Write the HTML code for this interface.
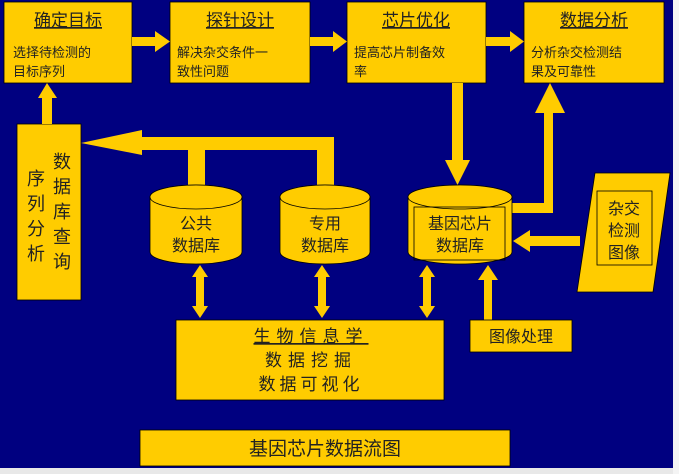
<!DOCTYPE html>
<html><head><meta charset="utf-8"><style>
html,body{margin:0;padding:0;background:#fff}
svg{display:block}
text{font-family:"Liberation Sans","Noto Sans CJK SC",sans-serif;fill:#222}
</style></head><body>
<svg width="679" height="474" viewBox="0 0 679 474" xmlns="http://www.w3.org/2000/svg">
<rect x="0" y="0" width="673" height="468" fill="#000080"/>
<rect x="0" y="468" width="679" height="6" fill="#e8e8e8"/>
<rect x="673" y="0" width="6" height="474" fill="#f4f4f4"/>
<g fill="#FFCC00" stroke="#000" stroke-width="0.8">
<!-- top boxes -->
<rect x="4" y="2" width="128" height="81"/>
<rect x="170" y="2" width="140" height="81"/>
<rect x="347" y="2" width="139" height="81"/>
<rect x="524" y="2" width="140" height="81"/>
<!-- arrows between top boxes -->
<polygon points="132,37 155,37 155,31 170,41.5 155,52 155,46 132,46" stroke="none"/>
<polygon points="310,37 333,37 333,31 347,41.5 333,52 333,46 310,46" stroke="none"/>
<polygon points="486,37 510,37 510,31 524,41.5 510,52 510,46 486,46" stroke="none"/>
<!-- left vertical box -->
<rect x="17" y="124" width="64" height="176"/>
<polygon points="42,124 42,98 38,98 47,83 57,98 52,98 52,124" stroke="none"/>
<!-- big left arrow -->
<polygon points="81,143 142,130 142,137 334,137 334,185 317,185 317,150 205,150 205,185 188,185 188,150 142,150 142,155" stroke="none"/>
<!-- down arrow from box3 -->
<polygon points="452,83 463,83 463,160 470,160 457.5,185 445,160 452,160" stroke="none"/>
<!-- up arrow to box4 -->
<polygon points="512,203 544,203 544,113 535,113 550,83 565,113 553,113 553,213 512,213" stroke="none"/>
<!-- cylinders -->
<path d="M150,197 A46,12 0 0 1 242,197 L242,252 A46,12 0 0 1 150,252 Z"/>
<ellipse cx="196" cy="197" rx="46" ry="12"/>
<path d="M280,197 A45,12 0 0 1 370,197 L370,252 A45,12 0 0 1 280,252 Z"/>
<ellipse cx="325" cy="197" rx="45" ry="12"/>
<path d="M408,197 A52,12 0 0 1 512,197 L512,252 A52,12 0 0 1 408,252 Z"/>
<ellipse cx="460" cy="197" rx="52" ry="12"/>
<rect x="414" y="207" width="91" height="53" fill="none"/>
<!-- parallelogram -->
<polygon points="595,173 670,173 653,292 577,292"/>
<rect x="597" y="191" width="55" height="74" fill="none"/>
<!-- arrow from parallelogram -->
<polygon points="580,236 530,236 530,230 513,241 530,252 530,246 580,246" stroke="none"/>
<!-- double arrows -->
<polygon points="196,277 192,277 200,265 208,277 204,277 204,306 208,306 200,318 192,306 196,306" stroke="none"/>
<polygon points="318,277 314,277 322,265 330,277 326,277 326,306 330,306 322,318 314,306 318,306" stroke="none"/>
<polygon points="423,277 419,277 427,265 435,277 431,277 431,306 435,306 427,318 419,306 423,306" stroke="none"/>
<polygon points="484,320 484,280 478,280 488,265 498,280 492,280 492,320" stroke="none"/>
<!-- bottom boxes -->
<rect x="176" y="320" width="268" height="80"/>
<rect x="470" y="320" width="102" height="32"/>
<rect x="140" y="430" width="370" height="36"/>
</g>
<g font-size="16">
<text x="68" y="26" text-anchor="middle" text-decoration="underline" font-size="17">确定目标</text>
<text x="240" y="26" text-anchor="middle" text-decoration="underline" font-size="17">探针设计</text>
<text x="416" y="26" text-anchor="middle" text-decoration="underline" font-size="17">芯片优化</text>
<text x="594" y="26" text-anchor="middle" text-decoration="underline" font-size="17">数据分析</text>
</g>
<g font-size="13">
<text x="13" y="57">选择待检测的</text><text x="13" y="76">目标序列</text>
<text x="177" y="57">解决杂交条件一</text><text x="177" y="76">致性问题</text>
<text x="354" y="57">提高芯片制备效</text><text x="354" y="76">率</text>
<text x="531" y="57">分析杂交检测结</text><text x="531" y="76">果及可靠性</text>
</g>
<g font-size="18" text-anchor="middle">
<text x="62" y="168">数</text><text x="62" y="193">据</text><text x="62" y="218">库</text><text x="62" y="243">查</text><text x="62" y="268">询</text>
<text x="36" y="185">序</text><text x="36" y="210">列</text><text x="36" y="235">分</text><text x="36" y="260">析</text>
</g>
<g font-size="16" text-anchor="middle">
<text x="196" y="229">公共</text><text x="196" y="251">数据库</text>
<text x="325" y="229">专用</text><text x="325" y="251">数据库</text>
<text x="460" y="229">基因芯片</text><text x="460" y="251">数据库</text>
<text x="624" y="214">杂交</text><text x="624" y="236">检测</text><text x="624" y="258">图像</text>
<text x="521" y="342">图像处理</text>
</g>
<g font-size="17" text-anchor="middle">
<text x="311" y="342" letter-spacing="6" text-decoration="underline">生物信息学</text>
<text x="311" y="366" letter-spacing="6">数据挖掘</text>
<text x="311" y="390" letter-spacing="4">数据可视化</text>
<text x="325" y="455" font-size="19">基因芯片数据流图</text>
</g>
</svg>
</body></html>
